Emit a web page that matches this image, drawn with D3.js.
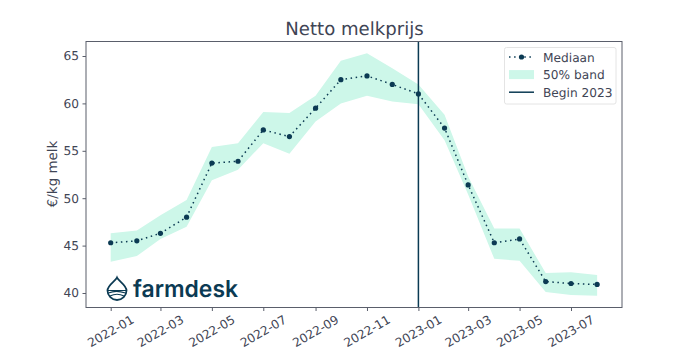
<!DOCTYPE html>
<html>
<head>
<meta charset="utf-8">
<script src="https://cdn.jsdelivr.net/npm/d3@7"></script>
<style>
    body { margin: 0; background: #fff; }
    svg { display: block; }
    text { font-family: "DejaVu Sans", sans-serif; fill: #3f4555; text-rendering: geometricPrecision; }
</style>
</head>
<body>
<svg id="chart" width="691" height="351"></svg>
<script>
// values
const months = ["2022-01", "2022-02", "2022-03", "2022-04", "2022-05", "2022-06", "2022-07", "2022-08", "2022-09", "2022-10",
    "2022-11", "2022-12", "2023-01", "2023-02", "2023-03", "2023-04", "2023-05", "2023-06", "2023-07", "2023-08"];
const median = [45.3, 45.5, 46.3, 48.0, 53.7, 53.9, 57.2, 56.5, 59.5, 62.5, 62.9, 62.0, 61.0, 57.4, 51.4, 45.3, 45.7, 41.2, 41.0, 40.9];
const bandHigh = [46.3, 46.6, 48.2, 49.8, 55.4, 55.8, 59.1, 59.0, 60.8, 64.5, 65.3, 63.7, 62.0, 58.8, 52.3, 46.8, 46.8, 42.1, 42.2, 41.9];
const bandLow = [43.3, 43.9, 45.7, 47.0, 51.9, 53.0, 55.8, 54.7, 58.1, 60.0, 60.8, 60.2, 59.9, 56.1, 50.4, 43.6, 43.4, 40.1, 39.8, 39.7];
const xTicks = ["2022-01", "2022-03", "2022-05", "2022-07", "2022-09", "2022-11", "2023-01", "2023-03", "2023-05", "2023-07"];
const yTicks = [40, 45, 50, 55, 60, 65];
const legendLabels = ["Mediaan", "50% band", "Begin 2023"];

const dark = "#0b3a53";
const mint = "#cdf7e9";
const spine = "#5a5e6b";

const parse = d3.timeParse("%Y-%m");
const dates = months.map(parse);

const plotLeft = 86, plotRight = 622, plotTop = 41.5, plotBottom = 307.5;

const x = d3.scaleTime()
    .domain([parse("2022-01"), parse("2023-07")])
    .range([110.7, 571]);
const y = d3.scaleLinear()
    .domain([40, 65])
    .range([293, 56]);

const svg = d3.select("#chart");

// band
svg.append("path")
    .datum(months.map((m, i) => i))
    .attr("fill", mint)
    .attr("d", d3.area()
        .x(i => x(dates[i]))
        .y0(i => y(bandLow[i]))
        .y1(i => y(bandHigh[i])));

// median line + dots
svg.append("path")
    .datum(median)
    .attr("fill", "none")
    .attr("stroke", dark)
    .attr("stroke-width", 1.5)
    .attr("stroke-dasharray", "1.5 3.6")
    .attr("d", d3.line().x((d, i) => x(dates[i])).y(d => y(d)));

svg.selectAll("circle.med")
    .data(median)
    .join("circle")
    .attr("class", "med")
    .attr("cx", (d, i) => x(dates[i]))
    .attr("cy", d => y(d))
    .attr("r", 2.6)
    .attr("fill", dark);

// begin 2023
svg.append("line")
    .attr("x1", x(parse("2023-01")))
    .attr("x2", x(parse("2023-01")))
    .attr("y1", plotTop)
    .attr("y2", plotBottom)
    .attr("stroke", dark)
    .attr("stroke-width", 1.5);

// frame
svg.append("rect")
    .attr("x", plotLeft)
    .attr("y", plotTop)
    .attr("width", plotRight - plotLeft)
    .attr("height", plotBottom - plotTop)
    .attr("fill", "none")
    .attr("stroke", spine)
    .attr("stroke-width", 1);

// axes
const xAxis = svg.append("g")
    .attr("transform", `translate(0,${plotBottom})`)
    .call(d3.axisBottom(x)
        .tickValues(xTicks.map(parse))
        .tickFormat(d3.timeFormat("%Y-%m"))
        .tickSize(3.5)
        .tickPadding(0));
xAxis.select(".domain").remove();
xAxis.selectAll("line").attr("stroke", spine);
xAxis.selectAll("text")
    .attr("font-size", 12.2)
    .attr("text-anchor", "middle")
    .attr("dy", 0)
    .attr("y", 0)
    .attr("transform", "translate(0,24.5) rotate(-30)")
    .attr("dominant-baseline", "middle");

const yAxis = svg.append("g")
    .attr("transform", `translate(${plotLeft},0)`)
    .call(d3.axisLeft(y)
        .tickValues(yTicks)
        .tickSize(3.5)
        .tickPadding(3.5));
yAxis.select(".domain").remove();
yAxis.selectAll("line").attr("stroke", spine);
yAxis.selectAll("text").attr("font-size", 12.2);

// titles
svg.append("text")
    .attr("x", 354.5)
    .attr("y", 35)
    .attr("text-anchor", "middle")
    .attr("font-size", 18.1)
    .text("Netto melkprijs");

svg.append("text")
    .attr("transform", "translate(57,174) rotate(-90)")
    .attr("text-anchor", "middle")
    .attr("font-size", 13.4)
    .text("€/kg melk");

// legend
const legend = svg.append("g");
legend.append("rect")
    .attr("x", 504.5)
    .attr("y", 47.5)
    .attr("width", 111.5)
    .attr("height", 56.5)
    .attr("rx", 2)
    .attr("fill", "#fff")
    .attr("stroke", "#e4e4e4");

const rowY = i => 57 + i * 17.6;
legend.selectAll("text")
    .data(legendLabels)
    .join("text")
    .attr("x", 543)
    .attr("y", (d, i) => rowY(i) + 4.5)
    .attr("font-size", 12.2)
    .text(d => d);

legend.append("line")
    .attr("x1", 509).attr("x2", 534)
    .attr("y1", rowY(0)).attr("y2", rowY(0))
    .attr("stroke", dark)
    .attr("stroke-width", 1.5)
    .attr("stroke-dasharray", "1.5 3.6");
legend.append("circle")
    .attr("cx", 521.5).attr("cy", rowY(0)).attr("r", 2.6)
    .attr("fill", dark);
legend.append("rect")
    .attr("x", 509).attr("y", rowY(1) - 4.5)
    .attr("width", 25).attr("height", 9)
    .attr("fill", mint);
legend.append("line")
    .attr("x1", 509).attr("x2", 534)
    .attr("y1", rowY(2)).attr("y2", rowY(2))
    .attr("stroke", dark)
    .attr("stroke-width", 1.5);

// logo: droplet + wordmark
const logo = svg.append("g").attr("transform", "translate(106,276)");
logo.append("path")
    .attr("d", "M11 1.5 C12.5 5 20.5 9 20.5 14.5 A9.5 9.5 0 0 1 1.5 14.5 C1.5 9 9.5 5 11 1.5 Z")
    .attr("fill", "none")
    .attr("stroke", dark)
    .attr("stroke-width", 1.8);
logo.append("path")
    .attr("d", "M2 14.5 H20 M2.5 17 C8 14.5 14 15 19.5 17 M4 20 C9 17.5 13 17.5 18 20")
    .attr("fill", "none")
    .attr("stroke", dark)
    .attr("stroke-width", 1.2);
logo.append("text")
    .attr("x", 27)
    .attr("y", 21)
    .attr("font-weight", 600)
    .attr("font-size", 23.5)
    .attr("textLength", 105)
    .attr("lengthAdjust", "spacingAndGlyphs")
    .style("font-family", "Inter, sans-serif")
    .style("fill", dark)
    .text("farmdesk");
</script>
</body>
</html>
